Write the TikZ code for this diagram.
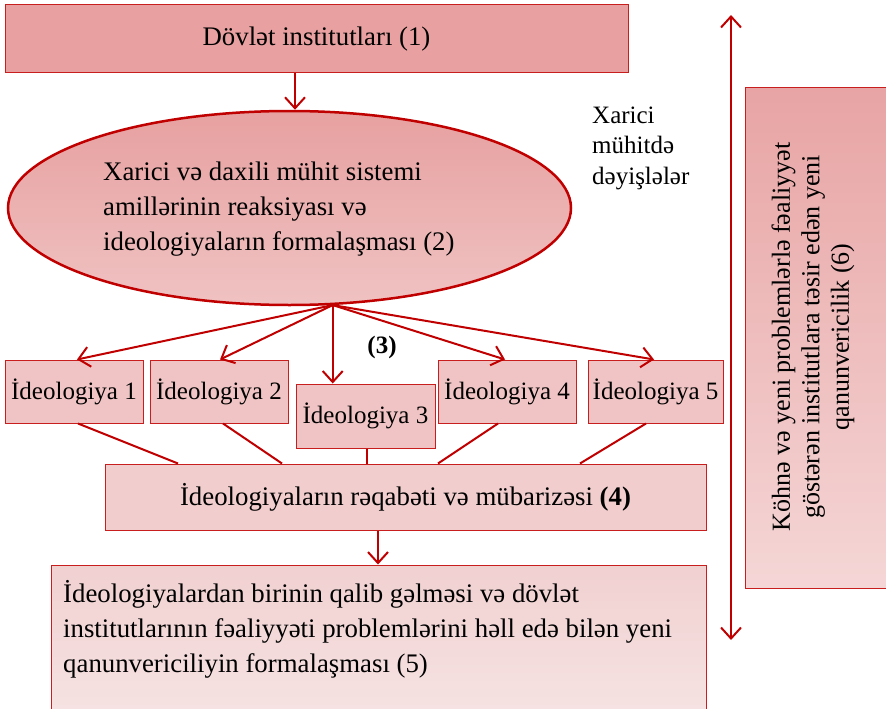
\documentclass[tikz,border=0pt]{standalone}
\usepackage{fontspec}
\setmainfont{Liberation Serif}
\usetikzlibrary{arrows.meta,shapes.geometric}
\definecolor{bord}{RGB}{200,30,30}
\definecolor{arr}{RGB}{192,0,0}
\definecolor{fillTop}{RGB}{232,160,160}
\definecolor{ellTop}{RGB}{231,160,160}
\definecolor{ellBot}{RGB}{240,194,194}
\definecolor{ideo}{RGB}{240,196,196}
\definecolor{comp}{RGB}{241,205,205}
\definecolor{finTop}{RGB}{241,208,208}
\definecolor{finBot}{RGB}{247,230,230}
\definecolor{lawTop}{RGB}{232,164,164}
\definecolor{lawBot}{RGB}{245,214,214}
\begin{document}
\begin{tikzpicture}[x=1pt,y=-1pt,
  txt/.style={inner sep=0pt,font=\fontsize{26.8}{32}\selectfont},
  box/.style={draw=bord,line width=1pt,inner sep=0pt,font=\fontsize{26.8}{32}\selectfont},
  ideobox/.style={box,fill=ideo,minimum height=63pt,font=\fontsize{25}{30}\selectfont},
  conn/.style={draw=arr,line width=2pt},
  arrow/.style={conn,-{Straight Barb[length=11pt,width=20pt,line width=2pt]}},
  dblarrow/.style={conn,{Straight Barb[length=11pt,width=20pt,line width=2pt]}-{Straight Barb[length=11pt,width=20pt,line width=2pt]}}
  ]
\clip (0,0) rectangle (886,709);
\fill[white] (0,0) rectangle (886,709);
% top box
\node[box,fill=fillTop,minimum width=623pt,minimum height=68pt] (inst) at (316.5,39) {Dövlət institutları (1)};
% ellipse
\node[ellipse,draw=arr,line width=2.5pt,top color=ellTop,bottom color=ellBot,minimum width=563pt,minimum height=194pt,inner sep=0pt] (ell) at (289.5,208) {};
\node[txt,align=left,anchor=west,font=\fontsize{26.8}{35}\selectfont] (elltxt) at (103,209) {Xarici və daxili mühit sistemi\\amillərinin reaksiyası və\\ideologiyaların formalaşması (2)};
% outside change text
\node[txt,align=left,anchor=west,font=\fontsize{25}{30.5}\selectfont] (xar) at (592,148) {Xarici\\mühitdə\\dəyişlələr};
% ideologies
\node[ideobox,minimum width=138pt] (i1) at (74,391.5) {İdeologiya 1};
\node[ideobox,minimum width=138pt] (i2) at (219,391.5) {İdeologiya 2};
\node[ideobox,minimum width=139pt,minimum height=64pt] (i3) at (365.5,416) {İdeologiya 3};
\node[ideobox,minimum width=138pt] (i4) at (507,391.5) {İdeologiya 4};
\node[ideobox,minimum width=135pt] (i5) at (655.5,391.5) {İdeologiya 5};
\node[txt,font=\fontsize{25}{30}\selectfont\bfseries] (lbl3) at (382,347) {(3)};
% competition
\node[box,fill=comp,minimum width=601pt,minimum height=66pt] (comp) at (405.5,497) {İdeologiyaların rəqabəti və mübarizəsi \textbf{(4)}};
% final
\node[box,top color=finTop,bottom color=finBot,minimum width=655pt,minimum height=175pt] (fin) at (378.5,652.5) {};
\node[txt,align=left,anchor=west,font=\fontsize{26.8}{35}\selectfont] (fintxt) at (63,629) {İdeologiyalardan birinin qalib gəlməsi və dövlət\\institutlarının fəaliyyəti problemlərini həll edə bilən yeni\\qanunvericiliyin formalaşması (5)};
% right box
\node[box,top color=lawTop,bottom color=lawBot,minimum width=155pt,minimum height=501pt] (law) at (822.5,337.5) {};
\node[txt,rotate=90,align=center,font=\fontsize{26}{29.5}\selectfont] (lawtxt) at (813,337) {Köhnə və yeni problemlərlə fəaliyyət\\göstərən institutlara təsir edən yeni\\qanunvericilik (6)};
% vertical double arrow
\coordinate (vtop) at (731,15);
\coordinate (vbot) at (731,640);
\draw[dblarrow] (vtop) -- (vbot);
% connectors
\draw[arrow] ([xshift=-21.5pt]inst.south) -- ([xshift=-21.5pt]inst.south |- ell.north);
\draw[arrow] (ell.-66) -- ([xshift=3pt]i1.north);
\draw[arrow] (ell.-66) -- ([xshift=1pt]i2.north);
\draw[arrow] (ell.-66) -- (ell.-66 |- i3.north);
\draw[arrow] (ell.-66) -- ([xshift=-2pt]i4.north);
\draw[arrow] (ell.-66) -- ([xshift=-1.5pt]i5.north);
\draw[conn] ([xshift=4pt]i1.south) -- (178,0 |- comp.north);
\draw[conn] ([xshift=4pt]i2.south) -- (282,0 |- comp.north);
\draw[conn] ([xshift=1.5pt]i3.south) -- ([xshift=1.5pt]i3.south |- comp.north);
\draw[conn] ([xshift=-9pt]i4.south) -- (438,0 |- comp.north);
\draw[conn] ([xshift=-9.5pt]i5.south) -- (580,0 |- comp.north);
\draw[arrow] ([xshift=-27.5pt]comp.south) -- ([xshift=-27.5pt]comp.south |- fin.north);
\end{tikzpicture}
\end{document}
